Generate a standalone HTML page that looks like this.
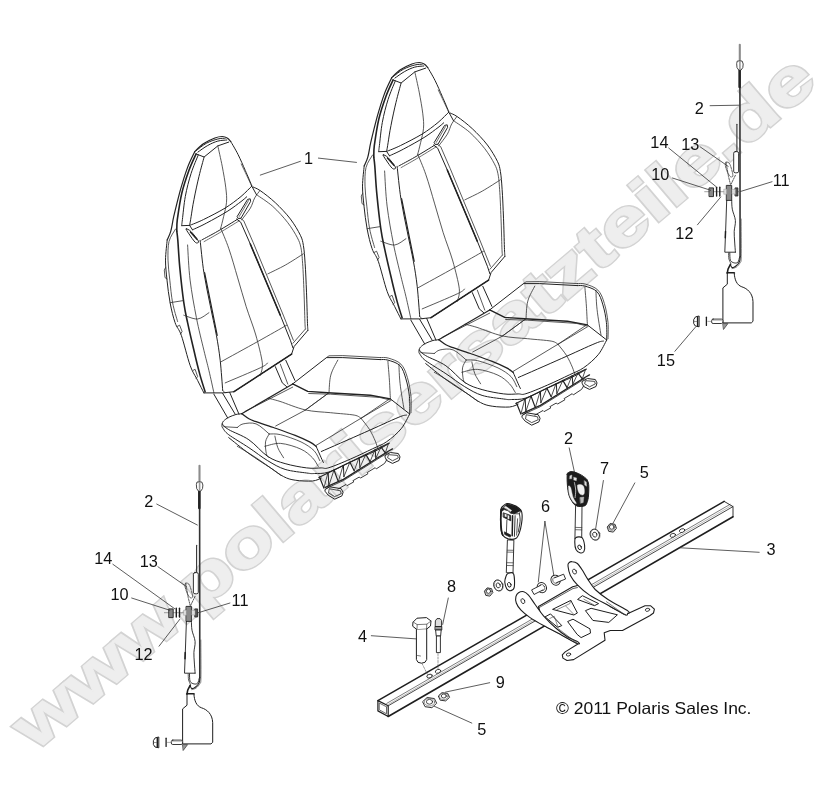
<!DOCTYPE html>
<html><head><meta charset="utf-8"><title>Seat assembly</title>
<style>
html,body{margin:0;padding:0;background:#fff;}
body{width:830px;height:798px;overflow:hidden;font-family:"Liberation Sans",sans-serif;}
svg{display:block;will-change:transform;}
svg text{font-family:"Liberation Sans",sans-serif;}
.wm{font-weight:bold;font-size:65px;stroke-linejoin:miter;}
.wo{fill:#d3d3d3;stroke:#d3d3d3;stroke-width:3.6px;}
.wi{fill:#eeeeee;stroke:#eeeeee;stroke-width:0.8px;}
.d{stroke-linecap:round;stroke-linejoin:round;}
.lbl text{fill:#111;}
</style></head><body>
<svg width="830" height="798" viewBox="0 0 830 798">
<rect width="830" height="798" fill="#fff"/>
<defs>
<g id="seat">
<path d="M194.7 151.7 C196.1 150.4 200 146 203.4 143.7 C206.7 141.4 211.8 139.2 214.9 138 C218.1 136.7 220.1 136.5 222.2 136.5 C224.2 136.5 225.8 137.1 227.2 138 C228.7 138.8 230.2 141 230.8 141.6" stroke="#222" stroke-width="1.2" fill="none"/>
<path d="M196.1 150.7 C197.8 149.4 202.6 145.3 206.3 143.3 C209.9 141.3 214.6 139.8 217.8 139 C221 138.1 224.1 138.4 225.3 138.2" stroke="#222" stroke-width="1.0" fill="none"/>
<path d="M197.9 152.1 C199.5 151 204.4 147.3 207.7 145.5 C211 143.6 214.6 142 217.8 141.1 C221 140.2 225.3 140.2 226.8 140" stroke="#222" stroke-width="1.0" fill="none"/>
<path d="M230.8 141.6 C232 143.7 235.7 149.8 238.1 154.6 C240.5 159.4 243 165.3 245.3 170.5 C247.6 175.7 250.7 183.1 251.8 185.7" stroke="#222" stroke-width="1.0" fill="none"/>
<path d="M241.2 164 C242.2 165.9 245.1 172 246.7 175.5 C248.4 179 250.4 183.4 251.1 184.9" stroke="#333" stroke-width="0.7" fill="none"/>
<path d="M196.1 153.9 L204.1 157 L217.8 145.9 L228.7 142.1" stroke="#222" stroke-width="1.0" fill="none"/>
<path d="M194.7 151.7 C193.5 154.3 189.9 161.1 187.5 167.6 C185.1 174.1 182.5 182.5 180.2 190.7 C178 198.9 175.3 210 173.7 216.7 C172.2 223.5 171.9 227.3 170.8 231.2 C169.8 235.1 167.8 238.4 167.2 239.9" stroke="#222" stroke-width="1.2" fill="none"/>
<path d="M196.1 153.9 C194.9 156.6 191.3 163.9 188.9 170.5 C186.5 177.1 183.6 185.4 181.7 193.6 C179.8 201.8 178.2 213.4 177.3 219.6 C176.5 225.9 176.9 229.3 176.8 231.2" stroke="#222" stroke-width="1.6" fill="none"/>
<path d="M198.3 154.9 C197.1 158 193.3 166.4 191.1 173.4 C188.9 180.3 186.7 188.8 185.3 196.5 C183.9 204.2 183 214.8 182.4 219.6 C181.8 224.5 181.8 224.5 181.7 225.4" stroke="#222" stroke-width="1.0" fill="none"/>
<path d="M204.1 157 C203.3 160.2 200.7 169.2 199 176.3 C197.3 183.3 195.3 192.6 194 199.4 C192.6 206.1 191.8 212.4 191.1 216.7 C190.4 221.1 189.9 224 189.6 225.4" stroke="#222" stroke-width="1.0" fill="none"/>
<path d="M217.8 145.9 C218.6 149.3 220.8 159.2 222.2 166.1 C223.5 173.1 225.1 181.8 225.8 187.8 C226.5 193.9 226.9 197.5 226.5 202.3 C226.1 207.1 224.6 212.4 223.6 216.7 C222.6 221.1 221.2 226.4 220.7 228.3" stroke="#2e2e2e" stroke-width="0.8" fill="none"/>
<path d="M220.7 228.3 C222.1 231.7 226.1 240.5 228.9 248.8 C231.8 257.1 234.8 268.2 237.7 277.9 C240.6 287.5 243.2 297.2 246.2 306.7 C249.2 316.2 253.1 325.7 255.8 335 C258.4 344.4 261.5 356.1 262.3 362.8 C263 369.6 260.6 373.3 260.3 375.4" stroke="#2e2e2e" stroke-width="0.8" fill="none"/>
<path d="M189.6 225.4 C191.9 224.5 197.5 222.5 203.4 219.6 C209.3 216.7 218.8 211.9 225.1 208.1 C231.3 204.2 236.5 200.2 241 196.5 C245.4 192.8 250 187.8 251.8 186.1" stroke="#222" stroke-width="1.0" fill="none"/>
<path d="M192.5 229.8 C194.8 228.7 200.4 226.4 206.3 223.2 C212.2 220.1 222.2 214.6 227.9 211 C233.7 207.3 237.8 203.9 241 201.6 C244.1 199.2 245.8 197.6 246.7 196.8" stroke="#222" stroke-width="1.0" fill="none"/>
<path d="M201.9 239.9 C204.6 238.4 211.8 234.7 217.8 231.2 C223.9 227.7 234.7 221 238.1 218.9" stroke="#222" stroke-width="1.0" fill="none"/>
<path d="M181.7 225.7 L189.6 225.4 L192.5 229.8" stroke="#222" stroke-width="1.0" fill="none"/>
<path d="M204.1 241.6 C206.6 240.2 213.4 236.4 219.3 232.9 C225.1 229.5 235.9 222.8 239.2 220.8" stroke="#333" stroke-width="0.7" fill="none"/>
<path d="M237.3 216.3 L247.6 199.4 L250.2 198.8 L250.6 201.4 L241 218.2 L238.8 218.5Z" stroke="#222" stroke-width="1.0" fill="none"/>
<path d="M239.2 216.5 L248.5 200.6" stroke="#333" stroke-width="0.7" fill="none"/>
<path d="M259.8 190.7 C258.9 191.9 256.3 195.1 254.7 197.9 C253.1 200.8 252.5 204.4 250.4 208.1 C248.2 211.7 243.1 217.9 241.7 219.9" stroke="#2e2e2e" stroke-width="0.8" fill="none"/>
<path d="M186.1 228.8 C186.4 228.4 189.1 229.6 191.1 231.7 C193.2 233.7 197.6 239.3 198.4 241.1 C199.1 242.9 197 243.7 195.5 242.5 C193.9 241.3 190.5 236.1 189 233.9 C187.4 231.6 185.7 229.2 186.1 228.8Z" stroke="#222" stroke-width="1.0" fill="none"/>
<path d="M190.4 232 L196.9 239.3" stroke="#222" stroke-width="1.4" fill="none"/>
<path d="M253.3 187.1 C254.4 187.7 256.6 188.1 260.3 190.7 C264 193.2 270.3 198 275.3 202.7 C280.3 207.4 286.2 213.5 290.4 219 C294.5 224.4 298.2 230.8 300.4 235.3 C302.5 239.7 302.6 240.9 303.4 245.5 C304.2 250.2 304.6 255.6 305.1 263.3 C305.7 271.1 306.1 282.5 306.5 292.2 C306.9 301.8 307.2 314.9 307.4 321.2 C307.6 327.6 307.8 328.7 307.9 330.3" stroke="#222" stroke-width="1.0" fill="none"/>
<path d="M307.9 330.3 L294.1 346.5 L291.6 354.1" stroke="#222" stroke-width="1.0" fill="none"/>
<path d="M256.5 194.7 C259.2 196.6 267.6 201.8 272.8 206.4 C278 211.1 283.8 217.5 287.8 222.7 C291.9 228 295.2 233.6 297.4 237.8 C299.5 241.9 300 243.3 300.9 247.5 C301.8 251.8 302.1 255.9 302.6 263.3 C303.2 270.8 303.6 282.5 304 292.2 C304.4 301.8 304.7 315.1 304.9 321.2 C305.1 327.4 305.3 327.7 305.4 329" stroke="#2e2e2e" stroke-width="0.8" fill="none"/>
<path d="M305.4 329 L292.9 343.3" stroke="#2e2e2e" stroke-width="0.8" fill="none"/>
<path d="M251.5 185.6 L256.5 194.7" stroke="#222" stroke-width="1.0" fill="none"/>
<path d="M236.5 219 L240.7 222.2 L250.3 244 L280.3 315.2 L290.4 340.3 L292.9 347.8" stroke="#222" stroke-width="1.0" fill="none"/>
<path d="M250.3 244 L280.3 315.2" stroke="#222" stroke-width="1.6" fill="none"/>
<path d="M240.2 218.2 L243.7 220.7 L253.3 242.8 L282.8 314 L293.4 340.3" stroke="#2e2e2e" stroke-width="0.8" fill="none"/>
<path d="M200.1 240.3 C200.8 245.7 202.2 261.8 203.9 272.6 C205.6 283.4 208.1 294.7 210.2 305.2 C212.2 315.6 214.7 326.1 216.4 335.3 C218.1 344.5 219.1 351.1 220.2 360.3 C221.2 369.5 222.3 385.4 222.7 390.4" stroke="#222" stroke-width="1.0" fill="none"/>
<path d="M204.6 272.6 L217.2 335.3" stroke="#222" stroke-width="1.2" fill="none"/>
<path d="M187.6 245 C188 250.9 188.6 268 190.1 280.1 C191.6 292.2 194.1 306 196.4 317.7 C198.7 329.4 201.8 341.5 203.9 350.3 C206 359.1 207.2 363.2 208.9 370.4 C210.6 377.5 213.1 389.1 213.9 392.9" stroke="#2e2e2e" stroke-width="0.8" fill="none"/>
<path d="M167.2 239.9 C166.9 243.2 165.6 253.4 165.5 260.1 C165.5 266.8 166.3 273 167 280.1 C167.8 287.2 168.7 295.6 170.1 302.7 C171.4 309.8 173.2 317.3 175.1 322.7 C176.9 328.2 178.8 328.2 181.3 335.3 C183.8 342.4 187.4 357.8 190.1 365.3 C192.8 372.9 195.3 375.8 197.6 380.4 C199.9 385 202.8 390.8 203.9 392.9" stroke="#222" stroke-width="1.0" fill="none"/>
<path d="M175.6 229 C174.5 231.1 170.3 236.3 169 241.5 C167.8 246.7 167.9 253.6 168 260.1 C168.2 266.5 169 273 169.8 280.1 C170.6 287.2 171.3 295.8 172.6 302.7 C173.9 309.6 176.7 318.3 177.6 321.5" stroke="#2e2e2e" stroke-width="0.8" fill="none"/>
<path d="M165.5 267.6 L164.3 270.1 L165 277.6 L167 278.9" stroke="#2e2e2e" stroke-width="0.8" fill="none"/>
<path d="M177.1 326.5 L179.6 325.2 L182.1 331.5 L180.6 334" stroke="#2e2e2e" stroke-width="0.8" fill="none"/>
<path d="M193.1 370.4 L195.1 369.3 L197.6 376.6 L196.1 378.4" stroke="#2e2e2e" stroke-width="0.8" fill="none"/>
<path d="M176.8 231.2 C176.9 232.7 177.3 234 177.8 240 C178.3 246.1 178.8 257.2 179.8 267.6 C180.8 278 182.5 293.5 183.8 302.7 C185.1 311.9 185.9 314.8 187.6 322.7 C189.3 330.7 191.8 341.5 193.9 350.3 C195.9 359.1 198.2 368.5 200.1 375.4 C202 382.3 204.3 388.9 205.1 391.7" stroke="#222" stroke-width="1.6" fill="none"/>
<path d="M170.1 302.7 L182.6 300.7" stroke="#2e2e2e" stroke-width="0.8" fill="none"/>
<path d="M183.8 315.2 C186.1 315.8 193.4 319.4 197.6 319 C201.8 318.6 207 313.8 208.9 312.7" stroke="#2e2e2e" stroke-width="0.8" fill="none"/>
<path d="M267.8 273.9 C270.7 272.4 279.4 268.4 285.3 265.1 C291.3 261.7 300.4 255.7 303.4 253.8" stroke="#2e2e2e" stroke-width="0.8" fill="none"/>
<path d="M221.4 361.6 C227.5 358.2 246.9 347.6 257.8 341.5 C268.6 335.5 281.8 328 286.6 325.2" stroke="#2e2e2e" stroke-width="0.8" fill="none"/>
<path d="M225.2 382.9 C231 380.4 253.2 371.2 260.3 367.8 C267.4 364.5 266.5 363.7 267.8 362.8" stroke="#2e2e2e" stroke-width="0.8" fill="none"/>
<path d="M203.9 392.9 L222.7 392.9 L234 391.7 L291.6 354.1" stroke="#222" stroke-width="1.0" fill="none"/>
<path d="M234 391.7 L291.6 354.1" stroke="#222" stroke-width="1.6" fill="none"/>
<path d="M222.7 390.4 L225.2 392.9" stroke="#2e2e2e" stroke-width="0.8" fill="none"/>
<path d="M213.9 394.2 L227.7 418" stroke="#222" stroke-width="1.0" fill="none"/>
<path d="M222.7 393.4 L235.2 414.2" stroke="#222" stroke-width="1.0" fill="none"/>
<path d="M229.7 392.4 L239 414.2" stroke="#222" stroke-width="1.0" fill="none"/>
<path d="M275.3 366.6 L282.3 382.9 L286.6 386.6" stroke="#222" stroke-width="1.0" fill="none"/>
<path d="M280.3 364.1 L287.8 384.1" stroke="#2e2e2e" stroke-width="0.8" fill="none"/>
<path d="M285.8 360.3 L294.9 380.4" stroke="#222" stroke-width="1.0" fill="none"/>
<path d="M292.7 383.9 L326.5 357.6 L342.8 357.6 L380.4 359.6" stroke="#222" stroke-width="1.0" fill="none"/>
<path d="M380.4 359.6 C381.6 359.7 384.6 359.1 387.9 360.1 C391.2 361.1 396.9 362.5 399.9 365.6 C402.9 368.7 404.4 373.7 405.9 378.9 C407.5 384 408.8 390.6 409.4 396.4 C410.1 402.3 409.7 411 409.7 414" stroke="#222" stroke-width="1.0" fill="none"/>
<path d="M326.5 357.6 L329 355.8 L342.8 355.6 L380.4 357.6" stroke="#2e2e2e" stroke-width="0.8" fill="none"/>
<path d="M380.4 357.6 C381.7 357.7 385 357 388.4 358.1 C391.8 359.2 397.8 360.8 400.9 364.1 C404.1 367.3 405.8 372.2 407.4 377.6 C409.1 383 410.4 390.6 411 396.4 C411.5 402.3 411 410 411 412.7" stroke="#2e2e2e" stroke-width="0.8" fill="none"/>
<path d="M292.7 383.9 L307.7 391.4 L327.7 392.7 L370.4 395.2 L390.4 398.9" stroke="#222" stroke-width="1.4" fill="none"/>
<path d="M390.4 398.9 L409.7 414" stroke="#222" stroke-width="1.0" fill="none"/>
<path d="M245 411.5 L292.7 387.1" stroke="#2e2e2e" stroke-width="0.8" fill="none"/>
<path d="M337.8 360.1 C336.6 362.6 332.2 369.7 330.8 375.1 C329.3 380.5 329.3 389.7 329 392.7" stroke="#2e2e2e" stroke-width="0.8" fill="none"/>
<path d="M387.9 361.3 C388.1 364.5 389 373.9 389.4 380.1 C389.8 386.4 390.2 395.8 390.4 398.9" stroke="#2e2e2e" stroke-width="0.8" fill="none"/>
<path d="M329 392.7 L305.2 410.2" stroke="#2e2e2e" stroke-width="0.8" fill="none"/>
<path d="M316.3 445.3 L355.9 421.3 L391.3 400.3" stroke="#2e2e2e" stroke-width="0.8" fill="none"/>
<path d="M321.3 451.5 C328.5 448.4 351.5 438.3 364.3 432.6 C377.1 427 391 420.4 398.1 417.5 C405.1 414.5 405.1 415.5 406.5 415.1" stroke="#222" stroke-width="1.0" fill="none"/>
<path d="M268.2 398.2 C270.2 398.8 273.8 399.5 280 401.4 C286.2 403.4 296.9 408 305.3 409.9 C313.7 411.8 322.4 411.9 330.6 412.7 C338.8 413.6 349.2 414.2 354.2 415.1 C359.3 416 359.8 417.8 361 418.3" stroke="#2e2e2e" stroke-width="0.8" fill="none"/>
<path d="M361 418.3 L389.6 398.9" stroke="#2e2e2e" stroke-width="0.8" fill="none"/>
<path d="M361 418.3 C362.4 420.1 367 425.5 369.4 429.3 C371.8 433.1 373.9 437.8 375.3 441.1 C376.7 444.3 377.4 447.4 377.8 448.7" stroke="#2e2e2e" stroke-width="0.8" fill="none"/>
<path d="M308.7 393.5 L330.6 394.2 L379.5 397.4 L389.6 399.9" stroke="#2e2e2e" stroke-width="0.8" fill="none"/>
<path d="M398.9 364.3 C399.1 367.6 399.2 376.3 400.1 383.7 C400.9 391.2 403.3 404.8 404 409" stroke="#2e2e2e" stroke-width="0.8" fill="none"/>
<path d="M292.7 383.9 L241.7 413.7" stroke="#222" stroke-width="1.2" fill="none"/>
<path d="M222.2 423.9 C222.4 423.4 222.5 422 223.6 421 C224.7 419.9 226.6 418.4 228.7 417.3 C230.7 416.3 233.7 415.1 235.9 414.5 C238.1 413.9 240.7 413.9 241.7 413.7" stroke="#222" stroke-width="1.0" fill="none"/>
<path d="M241.7 413.7 C242.9 414.6 246.5 417.5 248.9 418.8 C251.3 420.1 252 420.2 256.1 421.7 C260.2 423.1 267 425.2 273.5 427.5 C280 429.8 289.2 433 295.2 435.4 C301.2 437.8 306.1 440.1 309.6 441.9 C313.1 443.7 315.1 445.5 316.1 446.3" stroke="#222" stroke-width="1.3" fill="none"/>
<path d="M316.1 446.3 C317 448.2 320 455.1 321.2 457.8 C322.4 460.5 323 461.7 323.4 462.5" stroke="#222" stroke-width="1.0" fill="none"/>
<path d="M237.3 427.5 C238.3 426.9 240 424.5 243.1 423.9 C246.3 423.3 251.8 422.2 256.1 423.9 C260.5 425.5 267 432.3 269.2 434" stroke="#2e2e2e" stroke-width="0.8" fill="none"/>
<path d="M269.2 434 C268.6 435.3 266 438.7 265.5 441.9 C265.1 445.2 265.8 451 266.3 453.5 C266.7 456 268.1 456.5 268.4 457.1" stroke="#2e2e2e" stroke-width="0.8" fill="none"/>
<path d="M269.2 434 C271.1 434.1 275.4 433.4 280.7 434.7 C286 436 295.4 439.3 301 441.9 C306.5 444.6 310.8 447.5 314 450.6 C317.1 453.7 318.8 459 319.8 460.7" stroke="#2e2e2e" stroke-width="0.8" fill="none"/>
<path d="M274.9 436.1 C275.4 438.1 276.4 444.1 277.8 447.7 C279.3 451.3 282.6 456.1 283.6 457.8" stroke="#2e2e2e" stroke-width="0.8" fill="none"/>
<path d="M264.8 446.3 C267.5 445.8 274.7 442.9 280.7 443.4 C286.7 443.9 295.7 446.7 301 449.2 C306.3 451.6 309.6 454.9 312.5 457.8 C315.4 460.7 317.3 465.1 318.3 466.5" stroke="#2e2e2e" stroke-width="0.8" fill="none"/>
<path d="M223.6 426.7 L237.3 427.5" stroke="#2e2e2e" stroke-width="0.8" fill="none"/>
<path d="M329 392.7 L305.2 410.2 L275.7 426" stroke="#2e2e2e" stroke-width="0.8" fill="none"/>
<path d="M222.2 423.9 C223.3 424.8 224.2 427 228.7 429.6 C233.1 432.3 242.4 435.3 248.9 439.8 C255.4 444.2 261.7 452.4 267.7 456.4 C273.7 460.4 278.6 461.7 285.1 463.6 C291.6 465.5 300.7 467.2 306.7 467.9 C312.8 468.7 317.5 468 321.2 467.9 C324.9 467.9 324 469.2 328.9 467.7 C333.8 466.2 343.4 462.2 350.6 459 C357.8 455.9 366.3 451.8 372.3 448.9 C378.3 446 381.9 445.1 386.7 441.7 C391.6 438.3 397.4 433.3 401.2 428.7 C405 424.1 408.3 416.4 409.7 414" stroke="#222" stroke-width="1.0" fill="none"/>
<path d="M222.2 423.9 C222.1 424.2 221.9 425.3 222 426 C222.1 426.7 221.8 426.7 222.9 428.2 C224 429.6 224.3 431.4 228.7 434.7 C233 437.9 242.4 443.4 248.9 447.7 C255.4 452 261.7 457.1 267.7 460.7 C273.7 464.3 278.6 467.3 285.1 469.4 C291.6 471.4 301.8 472.3 306.7 473 C311.6 473.7 310.8 473.7 314.5 473.5 C318.2 473.3 322.9 474 328.9 472 C334.9 470.1 342.9 465.4 350.6 461.9 C358.3 458.4 368.7 454.2 375.2 451.1 C381.7 448 387.2 444.5 389.6 443.1" stroke="#222" stroke-width="1.0" fill="none"/>
<path d="M228.7 437.6 C232 440.2 241.9 448.4 248.9 453.5 C255.9 458.6 264.8 464.1 270.6 467.9 C276.4 471.8 279.5 474.6 283.6 476.6 C287.7 478.7 290.4 479.5 295.2 480.2 C300 481 308.2 481.3 312.5 481 C316.9 480.6 319.8 478.6 321.2 478.1" stroke="#222" stroke-width="1.0" fill="none"/>
<path d="M237.3 446.3 C240.5 448.2 248.9 453 256.1 457.8 C263.4 462.6 276.6 472.3 280.7 475.2" stroke="#2e2e2e" stroke-width="0.8" fill="none"/>
<path d="M318.8 477.4 L388.2 443.4" stroke="#222" stroke-width="1.1" fill="none"/>
<path d="M325.3 487.4 L343.4 479.4 L388.2 451.2 L392.5 448.9" stroke="#222" stroke-width="1.3" fill="none"/>
<path d="M326 488.5 L343.4 480.6 L388.2 452.4" stroke="#222" stroke-width="0.8" fill="none"/>
<path d="M319.5 477 L323.9 488" stroke="#222" stroke-width="1.2" fill="none"/>
<path d="M323.9 488 L327.9 472.9" stroke="#222" stroke-width="0.8" fill="none"/>
<path d="M328.2 472.8 L328.8 485.8" stroke="#222" stroke-width="1.0" fill="none"/>
<path d="M328.8 485.8 L334 470" stroke="#222" stroke-width="0.8" fill="none"/>
<path d="M334 470 L338.3 481.6" stroke="#222" stroke-width="1.2" fill="none"/>
<path d="M338.3 481.6 L343.1 465.5" stroke="#222" stroke-width="0.8" fill="none"/>
<path d="M343.4 465.4 L343.9 476.7" stroke="#222" stroke-width="1.0" fill="none"/>
<path d="M343.9 476.7 L349.9 462.2" stroke="#222" stroke-width="0.8" fill="none"/>
<path d="M349.9 462.2 L354.2 470.8" stroke="#222" stroke-width="1.2" fill="none"/>
<path d="M354.2 470.8 L359 457.7" stroke="#222" stroke-width="0.8" fill="none"/>
<path d="M359.3 457.6 L359.9 467.5" stroke="#222" stroke-width="1.0" fill="none"/>
<path d="M359.9 467.5 L365.8 454.4" stroke="#222" stroke-width="0.8" fill="none"/>
<path d="M365.8 454.4 L370.1 461.6" stroke="#222" stroke-width="1.2" fill="none"/>
<path d="M370.1 461.6 L374.9 449.9" stroke="#222" stroke-width="0.8" fill="none"/>
<path d="M375.2 449.8 L375.8 458.4" stroke="#222" stroke-width="1.0" fill="none"/>
<path d="M375.8 458.4 L381 447" stroke="#222" stroke-width="0.8" fill="none"/>
<path d="M381 447 L385.3 452.9" stroke="#222" stroke-width="1.2" fill="none"/>
<path d="M385.3 452.9 L388.6 443.2" stroke="#222" stroke-width="0.8" fill="none"/>
<path d="M337.9 489.1 L346 484.5 L347.1 485.6 L353.8 481.9 L352.9 480.7 L359.3 477 L360.4 478.1 L367.9 473.8 L367.1 472.6 L375.2 467.7 L376.3 468.9 L384.6 463.4 L386.7 459.8" stroke="#222" stroke-width="0.9" fill="none"/>
<path d="M325.3 489.4 L329.6 486.8 L341.2 488.7 L343.1 492.3 L341.9 495.9 L334.7 499.2 L328.2 495.2 L325.3 491.6Z" stroke="#222" stroke-width="1.0" fill="none"/>
<path d="M329.6 488.8 L340.5 490.8 L341.2 493.7 L334.7 496.6 L328.9 493.2Z" stroke="#222" stroke-width="0.8" fill="none"/>
<path d="M385.3 455.4 L390.4 452.5 L398.3 453.5 L400 456.9 L399 460.5 L392.5 463.4 L386.7 460.5 L385.3 457.6Z" stroke="#222" stroke-width="1.0" fill="none"/>
<path d="M388.9 454.7 L397.6 455.4 L398.3 457.9 L392.5 460.8 L387.9 457.9Z" stroke="#222" stroke-width="0.8" fill="none"/>
</g>
<g id="belt">
<path d="M199.5 465.7 L199.5 482" stroke="#8c8c8c" stroke-width="2.1" fill="none"/>
<path d="M199.6 491 L199.8 677.6" stroke="#333" stroke-width="1.6" fill="none"/>
<path d="M199.3 489.5 L199.3 508" stroke="#222" stroke-width="2.5" fill="none"/>
<path d="M197.4 482 L201.8 482 L202.9 485 L202.5 488.6 L200.8 491 L198.4 491 L196.7 488.6 L196.4 485Z" stroke="#333" stroke-width="0.9" fill="#fff"/>
<path d="M199.6 483 L199.6 490" stroke="#999" stroke-width="1.6" fill="none"/>
<path d="M196.6 545.2 L196.6 572.8" stroke="#333" stroke-width="1.1" fill="none"/>
<rect x="193.4" y="572.6" width="4.9" height="21.2" rx="1.6" stroke="#1e1e1e" stroke-width="0.9" fill="#fff"/>
<path d="M185.7 583.2 C186.5 582.9 188.4 582.9 189.5 585.1 C190.6 587.3 192.5 594.3 192.6 596.3 C192.7 598.4 191.1 598.2 190.1 597.6 C189.2 597 187.8 594.7 187 592.8 C186.2 591 185.3 588.2 185.1 586.6 C184.9 585 185 583.4 185.7 583.2Z" stroke="#333" stroke-width="0.8" fill="none" stroke-dasharray="1.6 1.1"/>
<path d="M185.7 583.2 L188.2 597.6 L190.1 605.1" stroke="#333" stroke-width="0.8" fill="none" stroke-dasharray="1.6 1.1"/>
<path d="M195.1 596.3 L190.8 605.1" stroke="#333" stroke-width="0.8" fill="none" stroke-dasharray="1.6 1.1"/>
<path d="M164.4 612.7 L200.2 612.7" stroke="#777" stroke-width="0.7" fill="none"/>
<rect x="169.1" y="608.9" width="4.1" height="8.7" stroke="#222" stroke-width="0.9" fill="#888"/>
<path d="M176.3 608.2 L176.3 617" stroke="#1e1e1e" stroke-width="1.4" fill="none"/>
<path d="M179.5 608.2 L179.5 617" stroke="#1e1e1e" stroke-width="1.4" fill="none"/>
<rect x="186.4" y="606.4" width="5" height="15" stroke="#222" stroke-width="0.9" fill="#8a8a8a"/>
<rect x="195.1" y="608.9" width="2.5" height="8.1" stroke="#222" stroke-width="0.8" fill="#555"/>
<rect x="183.8" y="610.2" width="2.6" height="5" stroke="#999" stroke-width="0.5" fill="#ddd"/>
<rect x="191.8" y="610.4" width="3.2" height="4.6" stroke="#999" stroke-width="0.5" fill="#ddd"/>
<path d="M186.4 621.4 L185.4 650 L184.5 673.2 L195.1 673.2" stroke="#1e1e1e" stroke-width="0.9" fill="none"/>
<path d="M191.4 621.4 C191.5 622.9 191.4 626.9 192 630.2 C192.6 633.6 194.8 637.8 195.1 641.5 C195.4 645.2 194 649.1 193.9 652.5 C193.8 655.9 194.1 658.5 194.3 662 C194.5 665.5 195 671.3 195.1 673.2" stroke="#1e1e1e" stroke-width="0.9" fill="none"/>
<path d="M185.2 652.5 L185 658.8" stroke="#1e1e1e" stroke-width="1.5" fill="none"/>
<path d="M199.9 677.6 C199.8 678.4 199.9 681 199.2 682.6 C198.5 684.2 196.8 686 195.6 687 C194.4 688 192.7 688.8 191.8 688.6 C190.9 688.4 190.4 686.2 190.1 685.7" stroke="#1e1e1e" stroke-width="1.1" fill="none"/>
<path d="M200.8 640 C200.8 646.3 201.1 670.4 200.9 677.6 C200.8 684.9 200.7 681.8 199.9 683.5 C199.1 685.2 197.5 687 196.2 688 C194.8 689 192.5 689.3 191.8 689.6" stroke="#444" stroke-width="0.7" fill="none"/>
<path d="M189.5 673.8 C189.6 675 189.4 679.6 190.1 681.3 C190.8 683 192.7 683.6 193.9 683.9 C195.2 684.2 196.7 684.2 197.6 683.2 C198.5 682.2 199 678.9 199.3 678" stroke="#1e1e1e" stroke-width="0.9" fill="none"/>
<path d="M188.2 673.8 C188.3 674.8 188.2 678.3 188.6 680 C189 681.7 190.1 683.5 190.4 684.2" stroke="#333" stroke-width="0.8" fill="none"/>
<path d="M190.3 685.1 C189.9 685.9 188.3 688.6 187.8 690.1 C187.3 691.6 187.2 693.3 187.1 693.9" stroke="#1e1e1e" stroke-width="1.6" fill="none"/>
<path d="M187 693.9 L187 705.2 L182.6 708.9 L182.6 743.9 L211 743.9 L212.7 742.3 L212.7 722.7 C212.4 714 207 709.5 201.5 707.8 C196.5 706 194.3 701 193.9 693.9 Z" stroke="#1e1e1e" stroke-width="1" fill="none"/>
<path d="M186.6 693.9 L194.2 693.9" stroke="#1e1e1e" stroke-width="1.4" fill="none"/>
<rect x="171.3" y="740.1" width="11.3" height="4.4" rx="1.5" stroke="#222" stroke-width="0.9" fill="#fff"/>
<path d="M172 741.4 L182 741.4" stroke="#888" stroke-width="0.5" fill="none"/>
<path d="M166.1 738.2 L166.1 746.4" stroke="#1e1e1e" stroke-width="1.3" fill="none"/>
<path d="M167.5 742.4 L171 742.4" stroke="#777" stroke-width="0.6" fill="none"/>
<path d="M158.8 737.4 L158.8 747.8 L155 747 L153.4 744.5 L153.4 740.6 L155 738.2 Z" stroke="#222" stroke-width="1" fill="#fff"/>
<path d="M157.3 738 L157.3 747.4" stroke="#1e1e1e" stroke-width="1.4" fill="none"/>
<path d="M153.6 742.5 L156.5 742.5" stroke="#555" stroke-width="0.6" fill="none"/>
<path d="M182.8 744.6 L187.6 744.6 L183.4 750.2 Z" stroke="#444" stroke-width="0.8" fill="#999"/>
</g>
</defs>
<text class="wm wo" transform="translate(35,752.3) rotate(-40.4) scale(1.3,1)" x="0" y="0">www.polarisersatzteile.de</text>
<text class="wm wi" transform="translate(35,752.3) rotate(-40.4) scale(1.3,1)" x="0" y="0">www.polarisersatzteile.de</text>
<g class="d" fill="none">
<use href="#seat"/>
<use href="#seat" transform="translate(197,-74)"/>
<use href="#belt"/>
<use href="#belt" transform="translate(540.3,-421)"/>
<path d="M377.9 700.6 L724.2 501.4" stroke="#1e1e1e" stroke-width="1.5" fill="none"/>
<path d="M388.2 705.8 L733 506.6" stroke="#333" stroke-width="0.9" fill="none"/>
<path d="M388.2 716.5 L733 516.8" stroke="#1e1e1e" stroke-width="1.6" fill="none"/>
<path d="M386.7 703.4 L730 504.4" stroke="#444" stroke-width="0.7" fill="none"/>
<path d="M388 704.6 L731.6 505.5" stroke="#777" stroke-width="0.5" fill="none"/>
<path d="M377.9 700.6 L388.2 705.8 L388.2 716.5 L377.9 710.9Z" stroke="#1e1e1e" stroke-width="1.2" fill="none"/>
<path d="M379.6 703.2 L386.5 706.8 L386.5 713.8 L379.6 710Z" stroke="#444" stroke-width="0.8" fill="none"/>
<path d="M386.5 706.8 L388.2 705.8" stroke="#555" stroke-width="0.6" fill="none"/>
<path d="M724.2 501.4 L733 506.6 L733 516.8" stroke="#1e1e1e" stroke-width="0.9" fill="none"/>
<ellipse cx="429.5" cy="676.1" rx="2.8" ry="1.8" stroke="#1e1e1e" stroke-width="0.8" fill="#fff" transform="rotate(-20 429.5 676.1)"/>
<ellipse cx="438" cy="671.3" rx="2.8" ry="1.8" stroke="#1e1e1e" stroke-width="0.8" fill="#fff" transform="rotate(-20 438 671.3)"/>
<ellipse cx="672.8" cy="535.3" rx="2.8" ry="1.8" stroke="#1e1e1e" stroke-width="0.8" fill="#fff" transform="rotate(-20 672.8 535.3)"/>
<ellipse cx="682.1" cy="530.6" rx="2.8" ry="1.8" stroke="#1e1e1e" stroke-width="0.8" fill="#fff" transform="rotate(-20 682.1 530.6)"/>
<path d="M538.5 606.4 L572.7 586.7 L578.7 585.3 L593.3 594.2 L610.3 606.4 L625.3 614.8 L645 605.8 L650.7 605.8 L654.4 609.2 L653.5 613 L649.7 615.8 L622.5 630.5 L610.3 630.5 L604.2 632.7 L605 640.2 L573.6 659.6 L567 660.5 L562.9 658.1 L562.3 654.9 L565.2 651.9 L577.9 644 L561.4 634.6 L543.5 625.2Z" stroke="#1e1e1e" stroke-width="1.1" fill="#fff"/>
<path d="M537.3 608.6 L573 588.5 L577.4 587.6" stroke="#333" stroke-width="0.8" fill="none"/>
<path d="M568 566 C567.7 563.9 568.2 563.5 568.9 562.8 C569.6 562.1 570.9 561.5 572.3 561.7 C573.7 561.8 575.7 562.2 577.4 563.5 C579 564.9 580.3 567.1 582.1 569.7 C583.8 572.3 585.5 575.8 587.7 579.1 C589.9 582.4 591.8 586 595.2 589.5 C598.7 592.9 602.9 596.2 608.4 599.8 C613.9 603.4 624.9 608.8 628.1 611.1 C631.3 613.4 628 612.9 627.6 613.5 C627.1 614.2 628.2 616 625.3 614.8 C622.4 613.7 616.2 609.7 610.3 606.4 C604.3 603.1 595.1 598.7 589.6 595.1 C584.1 591.5 580.6 588.1 577.4 584.8 C574.2 581.5 572 578.5 570.4 575.4 C568.8 572.2 568.2 568.1 568 566Z" stroke="#1e1e1e" stroke-width="1.1" fill="#fff"/>
<path d="M625.3 614.8 C624 614 620.9 612 617.8 609.8 C614.6 607.6 608.4 603 606.5 601.7" stroke="#444" stroke-width="0.7" fill="none"/>
<path d="M515.9 596.6 C516.3 594.9 517.2 593.5 518.5 592.7 C519.8 591.9 522.1 591.3 523.8 591.7 C525.5 592.1 526.6 593 528.5 595.1 C530.4 597.2 532.6 601.1 535.1 604.5 C537.6 608 540.1 611.9 543.5 615.8 C547 619.7 551.8 624.6 555.8 628 C559.7 631.5 563.3 634.1 567 636.5 C570.8 638.8 576.6 640.9 578.3 642.1 C580 643.3 580.2 644.8 577.4 643.6 C574.5 642.4 567 638 561.4 635 C555.8 632 548.9 628.5 543.5 625.6 C538.2 622.6 533.2 619.7 529.4 617.1 C525.7 614.5 523.2 612.5 521 610.2 C518.8 607.8 517.1 605.3 516.3 603 C515.4 600.8 515.5 598.3 515.9 596.6Z" stroke="#1e1e1e" stroke-width="1.1" fill="#fff"/>
<path d="M577.4 643.4 C576 642.3 572 639.3 568.9 636.8 C565.8 634.4 560.3 630.3 558.6 628.9" stroke="#444" stroke-width="0.7" fill="none"/>
<ellipse cx="522.9" cy="601.1" rx="1.8" ry="2.6" stroke="#1e1e1e" stroke-width="0.8" fill="#fff" transform="rotate(-25 522.9 601.1)"/>
<ellipse cx="574.5" cy="571.6" rx="1.8" ry="2.6" stroke="#1e1e1e" stroke-width="0.8" fill="#fff" transform="rotate(-25 574.5 571.6)"/>
<ellipse cx="647.5" cy="609.8" rx="2.2" ry="1.5" stroke="#1e1e1e" stroke-width="0.8" fill="#fff" transform="rotate(-15 647.5 609.8)"/>
<ellipse cx="568.5" cy="654.5" rx="2.2" ry="1.5" stroke="#1e1e1e" stroke-width="0.8" fill="#fff" transform="rotate(-15 568.5 654.5)"/>
<path d="M552.9 609.2 L570.8 600.4 L577.4 613 L574.2 614.8Z" stroke="#1e1e1e" stroke-width="1.0" fill="none"/>
<path d="M556.7 609.8 L569.8 603.6 L570.8 600.4" stroke="#444" stroke-width="0.6" fill="none"/>
<path d="M566.1 606.4 L574.2 614.8" stroke="#444" stroke-width="0.6" fill="none"/>
<path d="M577.9 599.2 L582.4 595.7 L598.6 603.6 L594.8 605.5Z" stroke="#1e1e1e" stroke-width="1.0" fill="none"/>
<path d="M583.9 599.2 L594.8 605.5" stroke="#444" stroke-width="0.6" fill="none"/>
<path d="M585.8 610.5 L591.1 608.3 L617.4 614.8 L608.8 622.4 L593.3 620.5Z" stroke="#1e1e1e" stroke-width="1.0" fill="none"/>
<path d="M568 621.4 L573 619.2 L590 628.9 L590.5 633.1 L581.1 637.6 L577.4 634.6Z" stroke="#1e1e1e" stroke-width="1.0" fill="none"/>
<path d="M545.4 616.7 L550.5 613.9 L561.8 625.6 L558 627.1Z" stroke="#1e1e1e" stroke-width="1.0" fill="none"/>
<path d="M549.7 618.6 L554.2 616.2 L558 627.1" stroke="#444" stroke-width="0.6" fill="none"/>
<path d="M371.3 635.7 L416.4 638.9" stroke="#333" stroke-width="0.8" fill="none"/>
<path d="M489.7 682.7 L445.5 692.1" stroke="#333" stroke-width="0.8" fill="none"/>
<path d="M471.8 723.1 L434.2 706.2" stroke="#333" stroke-width="0.8" fill="none"/>
<path d="M448.3 598 L442.7 624.4" stroke="#333" stroke-width="0.8" fill="none"/>
<path d="M544.9 521.4 L538.3 582" stroke="#333" stroke-width="0.8" fill="none"/>
<path d="M544.9 521.4 L554 576.5" stroke="#333" stroke-width="0.8" fill="none"/>
<path d="M603.4 480.5 L595.6 529.1" stroke="#333" stroke-width="0.8" fill="none"/>
<path d="M634.8 482.9 L612.8 523.6" stroke="#333" stroke-width="0.8" fill="none"/>
<path d="M569.2 447.9 L574.5 472.4" stroke="#333" stroke-width="0.8" fill="none"/>
<path d="M680.3 547.8 L759.2 552.3" stroke="#333" stroke-width="0.8" fill="none"/>
<path d="M260.3 175.1 L300.4 161.3" stroke="#333" stroke-width="0.8" fill="none"/>
<path d="M318.4 158.1 L356.5 162.4" stroke="#333" stroke-width="0.8" fill="none"/>
<path d="M413.2 622 L417 618.2 L426.5 617.6 L431 621 L430.5 626 L426.5 629.2 L417 629.6 L413 626.5Z" stroke="#1e1e1e" stroke-width="1.0" fill="#fff"/>
<path d="M413.2 622 L417.2 624.6 L426.8 624.2 L431 621" stroke="#444" stroke-width="0.7" fill="none"/>
<path d="M417.2 624.6 L417 629.6" stroke="#444" stroke-width="0.7" fill="none"/>
<path d="M426.8 624.2 L426.5 629.2" stroke="#444" stroke-width="0.7" fill="none"/>
<path d="M416.4 629.6 L416.4 659.5 L418 662.3 L421.5 663.2 L425 662.3 L426.7 659.5 L426.7 629.2" stroke="#1e1e1e" stroke-width="1.0" fill="#fff"/>
<path d="M417.5 655.5 L420.5 656" stroke="#444" stroke-width="0.7" fill="none"/>
<path d="M422 663.5 L427.5 674.5" stroke="#555" stroke-width="0.6" fill="none" stroke-dasharray="2 1.5"/>
<path d="M435.6 620.5 L437 618.6 L440 618.6 L441.6 620.5 L441.6 626.5 L435.6 626.5Z" stroke="#1e1e1e" stroke-width="0.9" fill="#ddd"/>
<path d="M435.4 626.5 L441.8 626.5 L441.8 630 L435.4 630Z" stroke="#1e1e1e" stroke-width="0.9" fill="#999"/>
<path d="M436 630 L441.2 630 L440.6 636 L436.6 636Z" stroke="#1e1e1e" stroke-width="0.9" fill="#fff"/>
<path d="M436.8 636 L440.4 636 L440.4 652.6 L436.8 652.6Z" stroke="#1e1e1e" stroke-width="0.9" fill="#fff"/>
<path d="M438 653.5 L438 669" stroke="#555" stroke-width="0.6" fill="none" stroke-dasharray="2 1.5"/>
<path d="M436.4 703.5 L431.9 707.7 L425 706.7 L422.6 701.7 L427.1 697.5 L434 698.5Z" stroke="#1e1e1e" stroke-width="0.9" fill="#fff"/>
<ellipse cx="429.5" cy="701.8" rx="3.1" ry="2.4" stroke="#1e1e1e" stroke-width="0.8" fill="#fff"/>
<ellipse cx="429.5" cy="702.1" rx="5.2" ry="3.9" stroke="#555" stroke-width="0.6" fill="none"/>
<path d="M449.3 697.6 L445.7 700.9 L440.2 700.2 L438.3 696 L441.9 692.7 L447.4 693.4Z" stroke="#1e1e1e" stroke-width="0.9" fill="#fff"/>
<ellipse cx="443.8" cy="696" rx="2.5" ry="2" stroke="#1e1e1e" stroke-width="0.8" fill="#fff"/>
<ellipse cx="443.8" cy="696.3" rx="4.2" ry="3.2" stroke="#555" stroke-width="0.6" fill="none"/>
<path d="M616.2 528.6 L613.3 532.1 L608.7 531.3 L607.2 527 L610.1 523.5 L614.7 524.3Z" stroke="#1e1e1e" stroke-width="0.9" fill="#fff"/>
<ellipse cx="611.7" cy="527" rx="2.3" ry="2.3" stroke="#1e1e1e" stroke-width="0.8" fill="#fff"/>
<ellipse cx="611.7" cy="527.3" rx="3.4" ry="3.3" stroke="#555" stroke-width="0.6" fill="none"/>
<path d="M492.6 592.8 L489.9 596.1 L485.8 595.4 L484.4 591.2 L487.1 587.9 L491.2 588.6Z" stroke="#1e1e1e" stroke-width="0.9" fill="#fff"/>
<ellipse cx="488.5" cy="591.2" rx="2.1" ry="2.2" stroke="#1e1e1e" stroke-width="0.8" fill="#fff"/>
<ellipse cx="488.5" cy="591.5" rx="3.2" ry="3.2" stroke="#555" stroke-width="0.6" fill="none"/>
<ellipse cx="594.8" cy="534.6" rx="4.6" ry="5.6" stroke="#1e1e1e" stroke-width="0.9" fill="#fff" transform="rotate(-20 594.8 534.6)"/>
<ellipse cx="594.8" cy="534.6" rx="2.1" ry="2.5" stroke="#1e1e1e" stroke-width="0.8" fill="#fff" transform="rotate(-20 594.8 534.6)"/>
<ellipse cx="595.4" cy="535" rx="4.6" ry="5.6" stroke="#666" stroke-width="0.5" fill="none" transform="rotate(-20 594.8 534.6)"/>
<ellipse cx="498.2" cy="585.4" rx="4.4" ry="5.6" stroke="#1e1e1e" stroke-width="0.9" fill="#fff" transform="rotate(-20 498.2 585.4)"/>
<ellipse cx="498.2" cy="585.4" rx="2" ry="2.5" stroke="#1e1e1e" stroke-width="0.8" fill="#fff" transform="rotate(-20 498.2 585.4)"/>
<ellipse cx="498.8" cy="585.8" rx="4.4" ry="5.6" stroke="#666" stroke-width="0.5" fill="none" transform="rotate(-20 498.2 585.4)"/>
<ellipse cx="541.8" cy="587.6" rx="4.6" ry="5.2" stroke="#1e1e1e" stroke-width="0.9" fill="#fff" transform="rotate(-25 541.8 587.6)"/>
<ellipse cx="541.8" cy="587.6" rx="2.8" ry="3.2" stroke="#444" stroke-width="0.7" fill="none" transform="rotate(-25 541.8 587.6)"/>
<path d="M540.6 585.3 L531.6 589.9 L534 594.5 L543 589.9" stroke="#1e1e1e" stroke-width="0.9" fill="#fff"/>
<ellipse cx="555.6" cy="580.2" rx="4.6" ry="5.2" stroke="#1e1e1e" stroke-width="0.9" fill="#fff" transform="rotate(-25 555.6 580.2)"/>
<ellipse cx="555.6" cy="580.2" rx="2.8" ry="3.2" stroke="#444" stroke-width="0.7" fill="none" transform="rotate(-25 555.6 580.2)"/>
<path d="M556.6 582.6 L565.6 579 L563.6 574.2 L554.6 577.8" stroke="#1e1e1e" stroke-width="0.9" fill="#fff"/>
<path d="M507.8 539.9 L513.9 540.2 L513 573 L506.7 572.7Z" stroke="#1e1e1e" stroke-width="0.9" fill="#fff"/>
<path d="M507.3 550.2 L513.4 550.3" stroke="#333" stroke-width="0.7" fill="none"/>
<path d="M507.2 552.1 L513.4 552.2" stroke="#333" stroke-width="0.7" fill="none"/>
<path d="M506.9 562.7 L513.1 562.8" stroke="#333" stroke-width="0.7" fill="none"/>
<path d="M506.8 565.5 L513 565.6" stroke="#333" stroke-width="0.7" fill="none"/>
<path d="M501 509.1 C501.5 506.7 502.5 506.6 503.5 505.7 C504.5 504.7 505.5 503.7 506.9 503.5 C508.3 503.2 510.4 503.9 511.9 504.4 C513.5 504.9 514.8 505.3 516.3 506.3 C517.8 507.3 520.1 508.9 521 510.4 C522 511.8 522 512.9 522.1 515.1 C522.2 517.2 522.1 520.3 521.6 523.2 C521.2 526.1 520.4 530 519.4 532.6 C518.5 535.2 517.6 537.5 515.7 538.5 C513.8 539.6 510.3 539.4 508.2 538.9 C506 538.3 504 536.9 502.8 535.4 C501.7 534 501.5 532.6 501.2 530.1 C500.8 527.5 500.6 523.6 500.5 520.1 C500.5 516.6 500.5 511.5 501 509.1Z" stroke="#1e1e1e" stroke-width="1.1" fill="#fff"/>
<path d="M501.3 509.3 L506.9 503.8 L516.3 506.5 L520.8 510.4 L517.6 512.2 L513.8 513.8 L510.7 513.2 L508.2 510.8 L504.1 509.5 L501.6 511.4Z" stroke="#1e1e1e" stroke-width="0.8" fill="#1c1c1c"/>
<path d="M504.1 507.2 L505.7 506.3 L511.6 510.4 L510.7 511.4Z" stroke="#eee" stroke-width="0.5" fill="#f4f4f4"/>
<path d="M503.5 512.9 L510.7 515.4 L510.8 520.8 L503.5 517.2Z" stroke="#1e1e1e" stroke-width="0.8" fill="#1c1c1c"/>
<path d="M505 514.1 L506.4 514.5 L506.4 516.9 L505 516.5Z" stroke="#eee" stroke-width="0.4" fill="#f4f4f4"/>
<path d="M507.9 515.4 L509.1 515.8 L509.1 519.1 L507.9 518.7Z" stroke="#eee" stroke-width="0.4" fill="#f4f4f4"/>
<path d="M504.7 532 L510.8 535.1 L510.2 537.1 L505 534.6Z" stroke="#1e1e1e" stroke-width="0.8" fill="#1c1c1c"/>
<path d="M506.9 520.1 L506.4 532.6" stroke="#1e1e1e" stroke-width="0.8" fill="none"/>
<path d="M512.6 515.7 L512.2 535.7" stroke="#1e1e1e" stroke-width="1.5" fill="none"/>
<path d="M515.1 515.7 L514.4 536.4" stroke="#1e1e1e" stroke-width="0.9" fill="none"/>
<path d="M517.6 518.8 L516.6 535.1" stroke="#333" stroke-width="0.8" fill="none"/>
<path d="M501.3 509.4 C501.2 511.2 500.8 516.6 500.8 520.1 C500.8 523.5 501.1 527.6 501.4 530.1 C501.7 532.6 502.6 534.3 502.8 535.1" stroke="#1e1e1e" stroke-width="1.7" fill="none"/>
<path d="M519.4 513.8 C519.6 515.1 520.3 518.3 520.1 521.3 C519.9 524.3 518.5 530.2 518.2 532" stroke="#1e1e1e" stroke-width="0.9" fill="none"/>
<path d="M513.8 513.8 L519.4 513.8 L520.8 510.4" stroke="#1e1e1e" stroke-width="0.8" fill="none"/>
<path d="M507.6 573.7 C508.9 573.1 512.4 571.5 513.5 573.7 C514.7 575.9 514.7 584.2 514.3 587 C513.9 589.8 512.3 590.3 511 590.6 C509.8 590.9 507.8 590.2 506.8 588.9 C505.8 587.5 505 584.2 504.8 582.3 C504.6 580.4 505.2 578.7 505.7 577.3 C506.2 575.8 506.3 574.3 507.6 573.7Z" stroke="#1e1e1e" stroke-width="1.1" fill="#fff"/>
<ellipse cx="509.3" cy="584.8" rx="1.7" ry="2.4" stroke="#1e1e1e" stroke-width="0.9" fill="#fff" transform="rotate(-20 509.3 584.8)"/>
<path d="M576 505.3 L582 505.6 L581.7 539.5 L575.3 539.1Z" stroke="#1e1e1e" stroke-width="0.9" fill="#fff"/>
<path d="M575.5 527.4 L581.8 527.6" stroke="#333" stroke-width="0.7" fill="none"/>
<path d="M575.5 529.7 L581.8 529.9" stroke="#333" stroke-width="0.7" fill="none"/>
<path d="M567.2 474.5 C567.4 472.4 567.6 473 568.5 472.5 C569.4 472 570.6 471.3 572.5 471.6 C574.5 471.9 577.9 473.3 580.1 474.4 C582.3 475.5 584.4 477.1 585.7 478.2 C587 479.3 587.2 479.6 587.7 481 C588.2 482.3 588.7 483.5 588.8 486.3 C588.9 489.1 588.7 494.7 588.3 497.6 C587.9 500.5 587.1 502.5 586.5 503.9 C585.8 505.2 585.7 505.4 584.4 505.9 C583.2 506.3 580.3 506.6 578.8 506.5 C577.3 506.4 576.6 505.8 575.7 505.2 C574.7 504.7 574.3 504.8 573.2 503.2 C572.1 501.6 570.1 498.7 569.1 495.7 C568.1 492.7 567.7 488.6 567.4 485.1 C567.1 481.5 567 476.6 567.2 474.5Z" stroke="#1e1e1e" stroke-width="1.0" fill="#1c1c1c"/>
<path d="M568.5 486.3 C568.6 485 569.9 485.7 570.7 487.6 C571.4 489.4 572.2 495 573.2 497.6 C574.1 500.2 576.2 502.4 576.3 503.2 C576.4 504.1 574.9 503.9 573.8 502.6 C572.7 501.4 570.6 498.4 569.7 495.7 C568.8 493 568.3 487.7 568.5 486.3Z" stroke="#ddd" stroke-width="0.4" fill="#f2f2f2"/>
<path d="M577.6 485.1 C578.3 483.9 582 484.4 583.2 485.7 C584.3 486.9 584.6 491 584.4 492.6 C584.3 494.1 583.5 495.1 582.6 495.1 C581.6 495.1 579.6 494.3 578.8 492.6 C578 490.9 576.8 486.2 577.6 485.1Z" stroke="#ddd" stroke-width="0.4" fill="#f2f2f2"/>
<path d="M573.8 477.2 L576.6 477.9 L576.3 480.7 L573.8 480.1Z" stroke="#ccc" stroke-width="0.4" fill="#e8e8e8"/>
<path d="M570 475.7 L571.9 475 L571.6 478.8 L569.7 478.8Z" stroke="#ccc" stroke-width="0.4" fill="#ddd"/>
<path d="M584.4 480.7 L586.3 481.9 L586.6 486.3 L584.8 485.1Z" stroke="#ccc" stroke-width="0.4" fill="#ddd"/>
<path d="M580.1 497.6 L583.8 497 L583.2 502.6 L580.7 503.2Z" stroke="#ccc" stroke-width="0.4" fill="#bbb"/>
<path d="M574.4 482.6 C574.6 483.8 575.6 487.6 575.7 490.1 C575.8 492.6 575.2 496.3 575.1 497.6" stroke="#ddd" stroke-width="0.8" fill="none"/>
<path d="M575.7 537.7 C576.9 536.9 580.5 536.4 582 537.7 C583.5 539 584.3 543.2 584.6 545.5 C584.9 547.8 584.6 550.3 583.9 551.5 C583.1 552.7 581.2 553.1 579.9 552.7 C578.6 552.4 576.9 551.2 576 549.5 C575.2 547.7 574.8 544.4 574.8 542.4 C574.7 540.4 574.5 538.5 575.7 537.7Z" stroke="#1e1e1e" stroke-width="1.1" fill="#fff"/>
<ellipse cx="579.6" cy="547.3" rx="1.7" ry="2.4" stroke="#1e1e1e" stroke-width="0.9" fill="#fff" transform="rotate(-20 579.6 547.3)"/>
</g>
<g class="lbl">
<text x="308.6" y="164.1" font-size="16.3" text-anchor="middle">1</text>
<text x="699.4" y="113.8" font-size="16.3" text-anchor="middle">2</text>
<text x="659.4" y="148.4" font-size="16.3" text-anchor="middle">14</text>
<text x="690.2" y="149.8" font-size="16.3" text-anchor="middle">13</text>
<text x="660.2" y="179.8" font-size="16.3" text-anchor="middle">10</text>
<text x="781.2" y="185.6" font-size="16.3" text-anchor="middle">11</text>
<text x="684.4" y="239.4" font-size="16.3" text-anchor="middle">12</text>
<text x="665.9" y="366.2" font-size="16.3" text-anchor="middle">15</text>
<text x="568.5" y="443.6" font-size="16.3" text-anchor="middle">2</text>
<text x="604.6" y="473.8" font-size="16.3" text-anchor="middle">7</text>
<text x="644.4" y="478.4" font-size="16.3" text-anchor="middle">5</text>
<text x="545.5" y="512" font-size="16.3" text-anchor="middle">6</text>
<text x="771" y="554.8" font-size="16.3" text-anchor="middle">3</text>
<text x="451.5" y="592.1" font-size="16.3" text-anchor="middle">8</text>
<text x="362.6" y="642.2" font-size="16.3" text-anchor="middle">4</text>
<text x="500.4" y="687.8" font-size="16.3" text-anchor="middle">9</text>
<text x="481.8" y="735.2" font-size="16.3" text-anchor="middle">5</text>
<text x="148.8" y="507.3" font-size="16.3" text-anchor="middle">2</text>
<text x="103.2" y="563.8" font-size="16.3" text-anchor="middle">14</text>
<text x="148.8" y="566.5" font-size="16.3" text-anchor="middle">13</text>
<text x="119.5" y="599.5" font-size="16.3" text-anchor="middle">10</text>
<text x="240" y="606.3" font-size="16.3" text-anchor="middle">11</text>
<text x="143.5" y="660.3" font-size="16.3" text-anchor="middle">12</text>
<text x="555.9" y="713.7" font-size="16.5" textLength="195.6" lengthAdjust="spacingAndGlyphs">© 2011 Polaris Sales Inc.</text>
<path d="M156.4 503.9 L197.7 525.2" stroke="#333" stroke-width="0.8" fill="none"/>
<path d="M157.6 566.5 L186.5 586.6" stroke="#333" stroke-width="0.8" fill="none"/>
<path d="M112.5 564 L175.2 609.1" stroke="#333" stroke-width="0.8" fill="none"/>
<path d="M131.3 597.9 L170.2 610.4" stroke="#333" stroke-width="0.8" fill="none"/>
<path d="M230.3 602.9 L197.7 612.9" stroke="#333" stroke-width="0.8" fill="none"/>
<path d="M180.1 618.9 L158.8 646.5" stroke="#333" stroke-width="0.8" fill="none"/>
<path d="M709.7 105.7 L739.3 105.2" stroke="#333" stroke-width="0.8" fill="none"/>
<path d="M699.7 146.5 L728.5 166.6" stroke="#333" stroke-width="0.8" fill="none"/>
<path d="M668.4 147.8 L716 186.6" stroke="#333" stroke-width="0.8" fill="none"/>
<path d="M672.1 177.9 L711 190.4" stroke="#333" stroke-width="0.8" fill="none"/>
<path d="M772.4 181.6 L739.8 191.7" stroke="#333" stroke-width="0.8" fill="none"/>
<path d="M721 196.7 L697.2 225.1" stroke="#333" stroke-width="0.8" fill="none"/>
<path d="M674.6 351.6 L695.9 326.6" stroke="#333" stroke-width="0.8" fill="none"/>
</g>
</svg>
</body></html>
